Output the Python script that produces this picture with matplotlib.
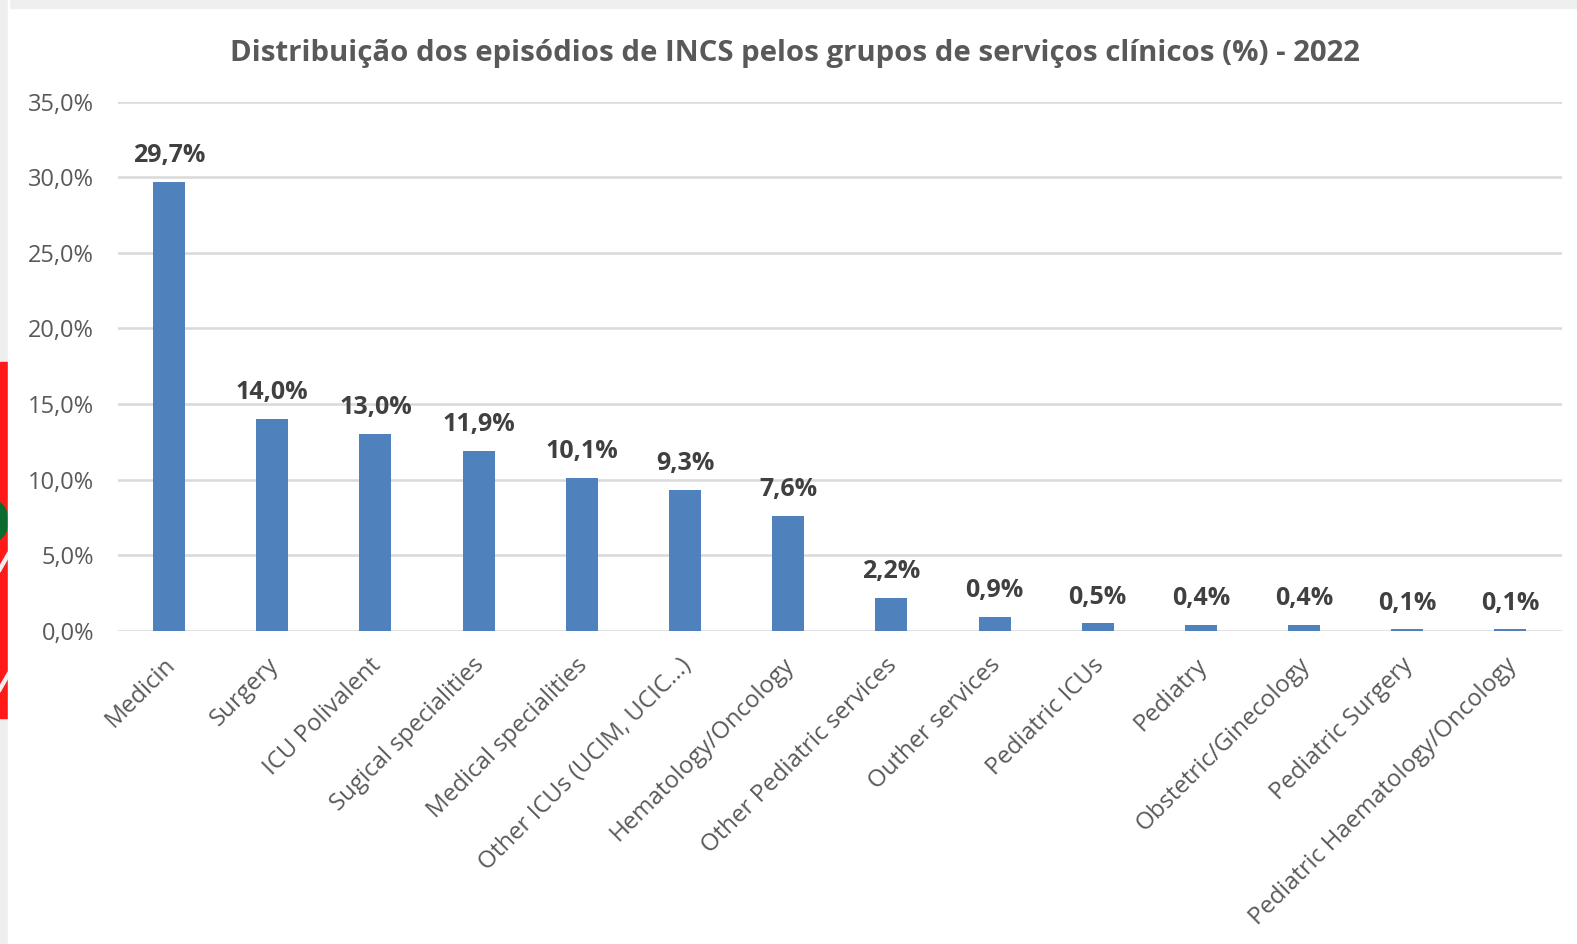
import matplotlib
matplotlib.use('Agg')
import matplotlib.pyplot as plt
from matplotlib.patches import Rectangle, Ellipse, Polygon
from matplotlib.ticker import FuncFormatter, MultipleLocator
from matplotlib.transforms import ScaledTranslation

categories = ['Medicin', 'Surgery', 'ICU Polivalent', 'Sugical specialities',
              'Medical specialities', 'Other ICUs (UCIM, UCIC...)',
              'Hematology/Oncology', 'Other Pediatric services', 'Outher services',
              'Pediatric ICUs', 'Pediatry', 'Obstetric/Ginecology',
              'Pediatric Surgery', 'Pediatric Haematology/Oncology']
values = [29.7, 14.0, 13.0, 11.9, 10.1, 9.3, 7.6, 2.2, 0.9, 0.5, 0.4, 0.4, 0.1, 0.1]

title = 'Distribuição dos episódios de INCS pelos grupos de serviços clínicos (%) - 2022'

plt.rcParams['font.family'] = ['Open Sans', 'DejaVu Sans']

W, H, DPI = 1577, 944, 100
fig = plt.figure(figsize=(W / DPI, H / DPI), dpi=DPI)
fig.patch.set_facecolor('white')


def px(x, y):
    # pixel coords (top-left origin) -> figure fraction
    return x / W, 1 - y / H


# screenshot frame: light gray strips on top and left, cut-off logo on the left edge
fig.patches.append(Rectangle(px(0, 8), 1, 8 / H, transform=fig.transFigure,
                             color='#efefef', zorder=0))
fig.patches.append(Rectangle(px(0, H), 8 / W, 1, transform=fig.transFigure,
                             color='#efefef', zorder=0))
fig.patches.append(Rectangle(px(0, 718), 8 / W, (718 - 362) / H, transform=fig.transFigure,
                             color='#ff1a1a', zorder=1))
for y0 in (552, 672):
    fig.patches.append(Polygon([px(0, y0 + 14), px(8, y0), px(8, y0 + 6), px(0, y0 + 20)],
                               closed=True, transform=fig.transFigure,
                               color='#f0f0f0', zorder=2))
fig.patches.append(Ellipse(px(-6, 521), 28 / W, 40 / H, transform=fig.transFigure,
                           color='#0b6b2e', zorder=2))
fig.patches.append(Rectangle(px(8, H), 1 / W, 1, transform=fig.transFigure,
                             color='white', zorder=3))

ax = fig.add_axes([117.5 / W, 1 - 631 / H, (1562 - 117.5) / W, (631 - 101.5) / H])
x = range(len(categories))
bars = ax.bar(x, values, width=0.31, color='#4f81bd', zorder=3)

ax.set_xlim(-0.5, len(categories) - 0.5)
ax.set_ylim(0, 35)
ax.yaxis.set_major_locator(MultipleLocator(5))
ax.yaxis.set_major_formatter(FuncFormatter(lambda v, p: f'{v:.1f}%'.replace('.', ',')))
ax.grid(axis='y', color='#d9d9d9', linewidth=1.8, zorder=0)
ax.set_axisbelow(True)
for s in ax.spines.values():
    s.set_visible(False)
ax.tick_params(axis='both', length=0)
ax.tick_params(axis='y', labelsize=17, labelcolor='#595959', pad=17)

ax.set_xticks(list(x))
ax.set_xticklabels(categories, rotation=45, ha='right', rotation_mode='anchor',
                   fontsize=17.3, color='#595959')
ax.tick_params(axis='x', pad=16)
shift = ScaledTranslation(-6 / DPI, 0, fig.dpi_scale_trans)
for lbl in ax.get_xticklabels():
    lbl.set_transform(lbl.get_transform() + shift)

for b, v in zip(bars, values):
    ax.annotate(f'{v:.1f}%'.replace('.', ','), (b.get_x() + b.get_width() / 2, v),
                xytext=(0, 10), textcoords='offset points', ha='center', va='bottom',
                fontsize=18, fontweight='bold', color='#404040')

fig.text(795 / W, 1 - 53 / H, title, ha='center', va='center', fontsize=21.2,
         fontweight='bold', color='#595959')

fig.savefig('out.png', dpi=DPI)
